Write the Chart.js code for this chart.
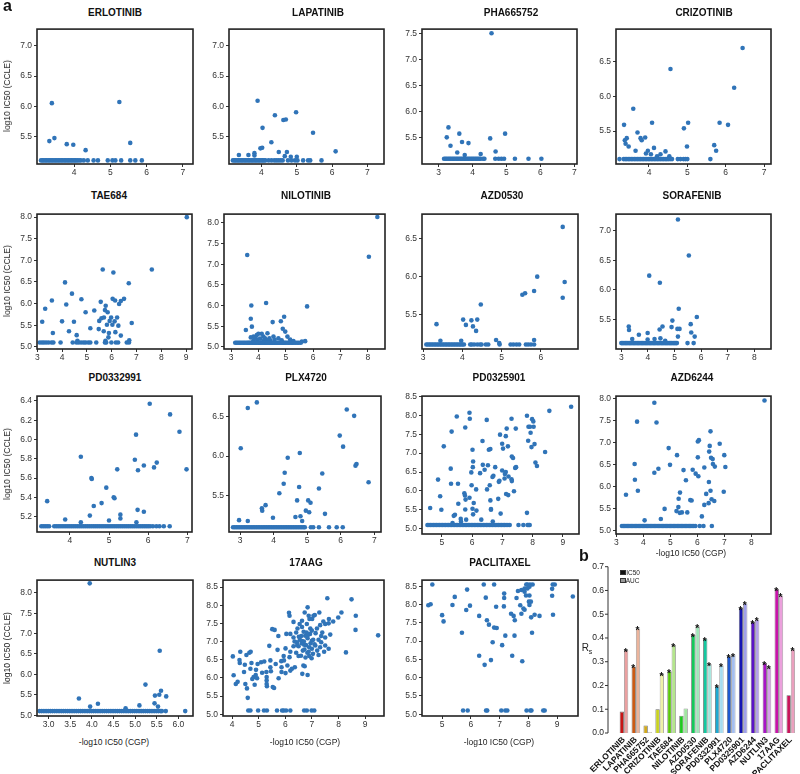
<!DOCTYPE html>
<html>
<head>
<meta charset="utf-8">
<script src="https://cdn.jsdelivr.net/npm/chart.js@4.4.1/dist/chart.umd.min.js"></script>
<style>
body { margin: 0; background: #fff; width: 800px; height: 774px; position: relative; overflow: hidden;
       font-family: "Liberation Sans", Arial, Helvetica, sans-serif; color: #111; }
.t { position: absolute; transform: translate(-50%, -50%); white-space: nowrap; }
.ttl { font-weight: bold; font-size: 10px; }
.ax { font-size: 8.5px; color: #222; }
.yt { transform: translate(-50%, -50%) rotate(-90deg); }
.lab { position: absolute; font-weight: bold; font-size: 16px; }
canvas { position: absolute; }
</style>
</head>
<body>
<script>
const FLOOR_Y = 5.1;

// ---- panel a: CGP (x) vs CCLE (y), points above the floor and x of points on the floor ----
const erlotinibPts = [[3.39,6.05],[5.25,6.07],[3.32,5.42],[3.46,5.47],[3.80,5.37],[3.98,5.36],[4.32,5.27],[5.55,5.39]];
const erlotinibFloor = [3.09,3.13,3.17,3.21,3.25,3.29,3.33,3.37,3.41,3.45,3.49,3.53,3.57,3.61,3.65,3.69,3.73,3.77,3.81,3.85,3.89,3.93,3.97,4.01,4.05,4.09,4.14,4.19,4.27,4.38,4.54,4.66,4.93,5.06,5.14,5.30,5.55,5.69,5.87];

const lapatinibPts = [[3.89,6.09],[4.98,5.90],[4.38,5.85],[4.62,5.77],[4.69,5.78],[4.03,5.64],[5.46,5.56],[4.28,5.40],[3.97,5.30],[4.02,5.31],
  [4.49,5.24],[4.72,5.24],[6.10,5.25],[3.36,5.19],[3.63,5.19],[3.80,5.22],[3.80,5.18],[4.66,5.17],[4.83,5.16],[5.0,5.16]];
const lapatinibFloor = [3.19,3.23,3.27,3.31,3.35,3.39,3.43,3.47,3.51,3.55,3.59,3.63,3.67,3.71,3.75,3.79,3.83,3.87,3.91,3.95,3.99,4.03,4.07,4.11,4.2,4.28,4.36,4.42,4.48,4.54,4.60,4.75,4.85,4.95,5.02,5.18,5.32,5.38,5.70];

const phaPts = [[4.56,7.50],[3.29,5.70],[3.24,5.51],[3.61,5.58],[4.96,5.58],[4.52,5.49],[3.35,5.35],[3.69,5.42],[3.88,5.40],[3.55,5.22],[4.24,5.19],[3.77,5.17],[4.68,5.24]];
const phaFloor = [3.16,3.2,3.24,3.28,3.32,3.36,3.4,3.44,3.48,3.52,3.56,3.6,3.64,3.68,3.72,3.76,3.8,3.84,3.88,3.92,3.96,4.0,4.04,4.08,4.12,4.16,4.2,4.24,4.31,4.35,4.67,4.77,4.85,4.93,5.25,5.65,6.03];

const crizotinibPts = [[6.44,6.69],[4.56,6.39],[6.22,6.12],[3.59,5.82],[3.35,5.59],[4.08,5.62],[5.02,5.62],[5.84,5.62],[6.06,5.59],[4.91,5.54],
  [3.70,5.48],[3.42,5.40],[3.37,5.37],[3.39,5.32],[3.47,5.28],[3.78,5.40],[3.81,5.37],[3.90,5.41],[4.13,5.26],[3.97,5.22],[4.05,5.17],[3.92,5.18],
  [3.65,5.22],[4.43,5.21],[4.30,5.17],[4.21,5.14],[4.53,5.14],[4.99,5.28],[5.70,5.30],[5.75,5.22]];
const crizotinibFloor = [3.23,3.34,3.38,3.42,3.46,3.5,3.54,3.58,3.62,3.66,3.7,3.74,3.78,3.82,3.86,3.9,3.94,3.98,4.02,4.06,4.1,4.14,4.18,4.22,4.26,4.3,4.34,4.38,4.42,4.46,4.5,4.55,4.6,4.75,4.82,4.9,4.95,5.0,5.6];

const tae684Pts = [[9.03,8.0],[5.64,6.79],[6.07,6.72],[7.62,6.79],[6.69,6.47],[4.12,6.49],[4.40,6.23],[4.78,6.10],[3.59,6.07],[4.17,5.98],[3.32,5.88],
  [5.56,6.04],[6.04,6.11],[6.14,6.07],[6.50,6.11],[6.37,6.06],[6.30,5.99],[5.30,5.84],[4.95,5.80],[5.76,5.95],[5.73,5.85],[5.84,5.80],[5.69,5.68],
  [5.98,5.68],[6.22,5.68],[4.0,5.59],[4.48,5.58],[3.20,5.58],[5.50,5.60],[5.59,5.66],[5.92,5.60],[6.12,5.59],[5.81,5.51],[6.03,5.51],[6.27,5.49],
  [6.81,5.55],[5.14,5.43],[5.48,5.41],[4.28,5.36],[3.63,5.32],[5.68,5.36],[6.15,5.34],[6.37,5.26],[4.59,5.27],[5.89,5.32],[5.87,5.22],[6.71,5.15],
  [4.62,5.14],[5.75,5.14]];
const tae684Floor = [3.1,3.19,3.27,3.36,3.46,3.58,3.65,3.94,4.43,4.58,4.67,4.77,4.87,4.95,5.06,5.14,5.38,5.73,5.78,5.99,6.17,6.26,6.61,6.70];

const nilotinibPts = [[8.35,8.14],[8.04,7.18],[3.59,7.22],[3.74,6.0],[4.28,6.06],[5.78,5.98],[3.72,5.68],[4.94,5.73],[4.82,5.62],[4.52,5.60],
  [3.76,5.49],[4.89,5.44],[4.98,5.37],[3.54,5.41],[4.33,5.33],[3.82,5.25],[4.0,5.32],[4.12,5.32],[3.94,5.29],[4.18,5.25],[3.72,5.23],[3.88,5.23],
  [4.06,5.20],[4.24,5.21],[4.40,5.21],[4.55,5.25],[4.73,5.21],[5.06,5.25],[5.16,5.18],[5.28,5.14],[4.59,5.18],[4.85,5.16],[3.82,5.16],[4.18,5.14],
  [4.43,5.15],[5.59,5.13],[5.71,5.14],[3.96,5.18],[4.30,5.16]];
const nilotinibFloor = [3.15,3.2,3.25,3.3,3.35,3.4,3.45,3.5,3.55,3.6,3.64,3.68,3.72,3.76,3.8,3.84,3.88,3.92,3.96,4.0,4.04,4.08,4.12,4.16,4.2,4.24,
  4.28,4.32,4.36,4.4,4.44,4.48,4.52,4.56,4.6,4.64,4.68,4.72,4.76,4.8,4.84,4.88,4.92,4.96,5.0,5.05,5.1,5.15,5.2,5.25,5.3,5.36,5.42,5.48,5.55];

const azd0530Pts = [[6.56,6.66],[5.91,6.0],[6.61,5.93],[5.83,5.81],[6.56,5.72],[5.53,5.76],[5.60,5.78],[4.47,5.63],[3.34,5.37],[4.02,5.43],[4.38,5.43],
  [4.23,5.42],[4.09,5.36],[4.27,5.34],[4.35,5.28],[3.44,5.15],[3.97,5.15],[4.86,5.16],[5.83,5.16],[4.94,5.12]];
const azd0530Floor = [3.08,3.12,3.16,3.2,3.24,3.28,3.32,3.36,3.4,3.44,3.48,3.52,3.56,3.6,3.64,3.68,3.72,3.76,3.8,3.84,3.88,3.92,3.96,4.0,4.04,
  4.2,4.24,4.3,4.38,4.45,4.49,4.6,4.66,4.95,5.23,5.3,5.38,5.45,5.62,5.68,5.75,5.83];

const sorafenibPts = [[5.13,7.19],[5.54,6.58],[4.05,6.24],[4.45,6.12],[5.16,5.68],[5.84,5.54],[4.92,5.48],[5.61,5.42],[3.28,5.38],[3.29,5.32],
  [4.55,5.38],[4.89,5.37],[5.19,5.34],[4.44,5.33],[5.11,5.34],[3.66,5.24],[3.99,5.27],[5.63,5.28],[5.76,5.21],[5.13,5.21],[3.41,5.17],[3.99,5.16],
  [4.25,5.17],[4.47,5.18],[4.65,5.14]];
const sorafenibFloor = [3.0,3.05,3.1,3.15,3.2,3.25,3.3,3.35,3.4,3.45,3.5,3.55,3.6,3.65,3.7,3.75,3.8,3.85,3.9,3.95,4.0,4.05,4.1,4.15,4.2,4.25,
  4.3,4.35,4.4,4.45,4.5,4.55,4.6,4.65,4.7,4.75,4.8,4.85,4.9,4.95,5.0,5.05,5.09,5.49,5.72];

const pd0332991Pts = [[6.04,6.37],[6.56,6.26],[6.80,6.08],[5.69,6.05],[6.98,5.69],[4.28,5.82],[5.66,5.79],[5.21,5.69],[5.74,5.68],[5.89,5.73],
  [6.15,5.71],[6.22,5.76],[4.55,5.60],[4.56,5.59],[4.93,5.50],[5.12,5.40],[5.14,5.39],[3.42,5.36],[4.81,5.34],[4.61,5.31],[5.73,5.27],[5.89,5.25],
  [5.29,5.22],[4.51,5.21],[5.29,5.18],[3.88,5.17],[5.0,5.16],[4.28,5.14],[5.70,5.14]];
const pd0332991Floor = [3.27,3.32,3.37,3.42,3.47,3.6,3.65,3.7,3.75,3.8,3.85,3.9,3.95,4.0,4.05,4.1,4.15,4.2,4.25,4.3,4.35,4.4,4.45,4.5,4.55,4.6,
  4.65,4.7,4.75,4.8,4.85,4.9,4.95,5.0,5.05,5.1,5.15,5.2,5.25,5.3,5.35,5.4,5.45,5.5,5.55,5.6,5.65,5.7,5.75,5.8,5.85,5.9,5.95,6.0,6.05,6.12,
  6.21,6.29,6.4,6.55];

const plx4720Pts = [[3.50,6.68],[3.23,6.61],[6.18,6.59],[6.40,6.51],[5.97,6.26],[6.07,6.12],[3.02,6.10],[4.42,5.98],[4.78,6.04],[6.44,5.88],
  [6.47,5.90],[6.83,5.67],[4.33,5.79],[5.45,5.78],[4.30,5.65],[4.17,5.53],[4.76,5.61],[5.35,5.59],[4.70,5.44],[5.03,5.44],[5.10,5.41],[3.76,5.38],
  [3.65,5.34],[3.66,5.31],[4.96,5.31],[5.06,5.29],[5.53,5.27],[3.98,5.22],[4.65,5.23],[4.80,5.24],[2.97,5.19],[3.23,5.18],[4.85,5.18]];
const plx4720Floor = [2.79,2.84,2.89,2.94,2.99,3.04,3.09,3.14,3.19,3.24,3.29,3.34,3.39,3.44,3.49,3.54,3.59,3.64,3.69,3.74,3.79,3.84,3.89,3.94,
  3.99,4.04,4.09,4.14,4.19,4.24,4.29,4.34,4.39,4.44,4.49,4.54,4.59,4.64,4.69,4.74,4.79,4.84,4.89,4.93,5.11,5.18,5.35,5.65,5.88,6.06];

const pd0325901Pts = [[9.27,8.23],[8.55,8.12],[5.91,8.07],[5.49,7.97],[5.92,7.91],[7.30,7.91],[6.48,7.88],[7.81,7.99],[7.98,7.90],[8.02,7.84],
  [7.86,7.70],[7.91,7.70],[8.03,7.70],[5.77,7.68],[7.14,7.65],[7.44,7.65],[5.32,7.57],[7.93,7.54],[6.92,7.49],[7.11,7.45],[7.85,7.33],[6.34,7.32],
  [7.96,7.16],[8.06,7.24],[5.06,7.18],[7.18,7.18],[6.99,7.25],[6.01,7.09],[6.55,7.09],[6.60,7.11],[7.02,7.12],[8.41,7.03],[7.31,6.91],[7.35,6.87],
  [8.09,6.75],[8.14,6.66],[6.35,6.69],[6.52,6.68],[6.03,6.78],[6.02,6.63],[6.76,6.63],[7.42,6.61],[7.45,6.63],[5.29,6.59],[6.41,6.56],[6.26,6.47],
  [5.97,6.49],[6.99,6.54],[7.08,6.45],[7.11,6.50],[7.30,6.31],[7.31,6.26],[6.88,6.24],[6.90,6.27],[6.70,6.40],[6.67,6.37],[7.20,6.38],[7.07,6.33],
  [4.87,6.30],[5.30,6.19],[5.53,6.19],[5.98,6.15],[6.13,6.04],[6.58,6.15],[6.49,6.04],[7.38,5.99],[7.12,5.92],[7.19,5.89],[5.74,5.94],[5.76,5.88],
  [4.94,5.86],[5.91,5.82],[5.78,5.77],[6.60,5.75],[6.86,5.79],[6.05,5.68],[5.54,5.66],[4.98,5.50],[4.61,5.55],[5.77,5.51],[6.01,5.53],[6.62,5.50],
  [6.62,5.52],[6.14,5.48],[6.03,5.38],[5.43,5.37],[5.39,5.34],[5.80,5.24],[6.30,5.24],[5.62,5.26],[6.94,5.40],[7.81,5.42],[6.68,5.19],[5.35,5.15],
  [5.63,5.19]];
const pd0325901Floor = [4.52,4.57,4.62,4.67,4.72,4.77,4.82,4.87,4.92,4.97,5.02,5.07,5.12,5.17,5.22,5.27,5.32,5.37,5.42,5.47,5.52,5.57,5.62,5.67,
  5.72,5.77,5.82,5.87,5.92,5.97,6.02,6.07,6.12,6.17,6.22,6.27,6.32,6.37,6.42,6.47,6.52,6.57,6.62,6.67,6.72,6.77,6.82,6.87,6.92,6.97,7.02,7.07,
  7.12,7.18,7.24,7.53,7.69,7.83,7.87,7.9];

const azd6244Pts = [[8.49,7.95],[4.41,7.90],[3.77,7.47],[4.49,7.45],[6.49,7.25],[6.83,6.97],[6.06,7.05],[6.02,7.02],[4.94,6.87],[6.46,6.92],
  [7.0,6.71],[5.25,6.71],[6.44,6.79],[6.51,6.65],[6.57,6.62],[6.02,6.66],[3.68,6.51],[4.99,6.49],[6.58,6.51],[6.65,6.45],[6.26,6.43],[7.04,6.44],
  [4.56,6.40],[5.49,6.37],[5.83,6.38],[4.41,6.31],[5.94,6.29],[6.04,6.23],[3.69,6.15],[5.58,6.14],[6.43,6.10],[3.80,5.90],[3.36,5.81],[5.36,5.86],
  [6.49,5.90],[6.98,5.88],[6.33,5.83],[6.53,5.71],[6.63,5.67],[5.74,5.69],[5.79,5.68],[5.31,5.72],[6.26,5.58],[6.42,5.62],[4.79,5.49],[5.30,5.53],
  [5.23,5.44],[5.43,5.41],[5.35,5.40],[5.63,5.41],[6.17,5.32],[4.05,5.23],[4.65,5.26]];
const azd6244Floor = [3.21,3.26,3.31,3.36,3.41,3.46,3.51,3.56,3.61,3.66,3.71,3.76,3.81,3.86,3.91,3.96,4.01,4.06,4.11,4.16,4.21,4.26,4.31,4.36,
  4.41,4.46,4.51,4.56,4.61,4.66,4.71,4.76,4.81,4.86,4.91,4.96,5.01,5.06,5.11,5.16,5.21,5.26,5.31,5.36,5.41,5.46,5.51,5.56,5.61,5.66,5.71,5.76,
  5.81,5.87,5.93,6.09,6.23,6.54];

const nutlin3Pts = [[3.95,8.23],[5.57,6.58],[5.24,5.75],[5.60,5.60],[5.46,5.48],[5.56,5.50],[5.72,5.46],[3.70,5.41],[5.45,5.29],[4.14,5.28],
  [5.10,5.24],[5.53,5.21],[3.96,5.21],[4.78,5.17]];
const nutlin3Floor = [2.79,2.84,2.89,2.94,2.99,3.04,3.09,3.14,3.19,3.24,3.29,3.34,3.39,3.44,3.49,3.54,3.59,3.64,3.69,3.74,3.79,3.84,3.89,3.94,
  3.99,4.04,4.09,4.14,4.19,4.24,4.29,4.34,4.39,4.44,4.49,4.54,4.59,4.64,4.69,4.74,4.79,4.84,4.89,4.94,4.99,5.04,5.09,5.14,5.19,5.24,5.29,5.34,
  5.39,5.44,5.49,5.54,5.59,5.62,5.71,6.16];

const aag17Pts = [[7.58,8.19],[8.49,8.16],[8.11,7.80],[8.65,7.71],[7.99,7.66],[8.64,7.32],[9.49,7.17],[8.28,6.70],[6.14,7.79],[6.16,7.71],
  [6.84,7.94],[6.73,7.80],[7.28,7.80],[7.11,7.73],[6.88,7.71],[6.91,7.62],[7.01,7.62],[7.06,7.71],[6.63,7.57],[6.31,7.54],[7.43,7.55],[7.63,7.50],
  [7.50,7.48],[7.80,7.55],[7.64,7.62],[7.31,7.45],[6.54,7.48],[6.81,7.48],[5.51,7.34],[5.60,7.32],[5.74,7.15],[6.46,7.36],[6.63,7.40],[6.41,7.25],
  [6.69,7.27],[6.94,7.36],[7.19,7.36],[6.19,7.21],[6.04,7.21],[6.31,7.11],[6.51,7.13],[6.75,7.16],[6.93,7.21],[7.14,7.23],[7.39,7.25],[7.69,7.19],
  [7.0,7.02],[6.84,7.09],[6.63,7.01],[6.44,6.98],[7.25,7.05],[7.35,6.98],[7.5,7.11],[6.31,6.87],[6.50,6.87],[6.71,6.91],[6.90,6.84],[7.13,6.89],
  [7.31,6.84],[7.50,6.89],[7.63,6.80],[5.40,6.88],[5.71,6.77],[6.01,6.81],[6.19,6.72],[6.66,6.75],[6.83,6.69],[7.04,6.66],[7.25,6.63],[7.46,6.72],
  [6.41,6.69],[6.59,6.61],[6.76,6.56],[6.99,6.54],[6.16,6.57],[5.94,6.60],[5.95,6.48],[5.85,6.46],[5.44,6.48],[5.21,6.45],[5.09,6.43],[4.96,6.38],
  [4.73,6.41],[4.54,6.63],[4.31,6.72],[4.03,6.59],[4.65,6.69],[4.70,6.72],[4.28,6.49],[4.29,6.41],[4.48,6.36],[5.44,6.29],[5.64,6.38],[5.86,6.29],
  [6.08,6.34],[6.36,6.29],[6.68,6.34],[6.73,6.32],[6.19,6.20],[6.01,6.13],[6.25,6.25],[6.64,6.11],[6.84,6.08],[5.86,6.16],[5.29,6.16],[5.46,6.18],
  [5.13,6.14],[4.45,6.16],[4.90,6.22],[4.89,6.08],[4.69,6.25],[4.06,6.07],[4.21,5.89],[4.14,5.83],[4.81,6.02],[4.76,5.97],[4.94,5.99],[5.30,6.02],
  [5.30,5.93],[5.30,5.83],[5.31,5.77],[4.50,5.83],[4.85,5.81],[5.53,5.75],[5.58,5.72],[5.75,5.99],[4.56,5.71],[4.59,5.45],[6.55,7.05],[6.62,6.95],
  [6.7,7.0],[6.78,6.9],[6.85,7.18],[6.95,6.95],[7.05,7.05],[7.1,6.92],[6.6,7.15],[6.72,6.78],[6.88,6.72],[7.0,7.3],[6.45,6.9],[6.35,7.0],[7.2,6.75],
  [7.35,7.15],[6.5,6.6],[6.9,6.6],[7.0,6.8],[6.8,7.25]];
const aag17Floor = [4.61,4.69,4.98,5.2,5.31,5.69,5.88,5.94,6.03,6.19,6.71,6.81,6.99,7.09];

const paclitaxelPts = [[4.66,8.55],[6.45,8.55],[6.81,8.55],[7.93,8.55],[7.97,8.55],[8.06,8.55],[8.15,8.55],[8.85,8.55],[8.92,8.55],[8.04,8.49],
  [7.64,8.37],[7.76,8.40],[7.87,8.44],[7.97,8.44],[7.87,8.35],[7.16,8.30],[5.87,8.41],[8.83,8.43],[5.44,8.21],[6.52,8.19],[7.16,8.18],[7.59,8.18],
  [7.92,8.25],[8.83,8.24],[9.55,8.22],[8.04,8.25],[4.60,8.01],[4.52,7.98],[5.36,7.99],[5.97,7.97],[6.88,7.94],[7.15,7.95],[8.04,7.99],[8.02,8.08],
  [7.72,7.98],[8.09,8.08],[5.84,7.85],[7.83,7.89],[7.87,7.86],[7.40,7.75],[7.49,7.69],[5.0,7.71],[6.29,7.69],[7.76,7.75],[8.10,7.65],[8.22,7.72],
  [8.39,7.69],[8.86,7.72],[5.05,7.54],[6.56,7.57],[7.53,7.57],[6.63,7.45],[6.81,7.37],[6.90,7.36],[5.69,7.23],[7.20,7.15],[7.52,7.15],[8.13,7.23],
  [6.76,6.97],[7.09,6.89],[6.29,6.60],[7.44,6.60],[6.70,6.48],[6.48,6.35],[7.79,6.45]];
const paclitaxelFloor = [5.73,5.89,6.53,6.57,7.06,7.2,7.27,7.94,8.07,8.11,8.52,8.57];

// tick values of each panel
const ticks3to7 = [3,4,5,6,7], ticks4to7 = [4,5,6,7], ticks3to6 = [3,4,5,6];
const ticks3to8 = [3,4,5,6,7,8], ticks3to9 = [3,4,5,6,7,8,9], ticks4to9 = [4,5,6,7,8,9], ticks5to9 = [5,6,7,8,9];
const ticksNutlinX = [3.0,3.5,4.0,4.5,5.0,5.5,6.0];
const yTicks55to70 = [5.5,6.0,6.5,7.0], yTicks55to75 = [5.5,6.0,6.5,7.0,7.5], yTicks55to65 = [5.5,6.0,6.5];
const yTicks50to80 = [5.0,5.5,6.0,6.5,7.0,7.5,8.0], yTicks50to85 = [5.0,5.5,6.0,6.5,7.0,7.5,8.0,8.5];
const yTicksPd033 = [5.2,5.4,5.6,5.8,6.0,6.2,6.4];

// ---- panel b: Spearman correlation per drug ----
const drugs = ['ERLOTINIB','LAPATINIB','PHA665752','CRIZOTINIB','TAE684','NILOTINIB','AZD0530','SORAFENIB',
               'PD0332991','PLX4720','PD0325901','AZD6244','NUTLIN3','17AAG','PACLITAXEL'];
const rsIC50 = [0.090,0.280,0.032,0.100,0.260,0.073,0.412,0.397,0.197,0.323,0.526,0.467,0.295,0.606,0.159];
const rsAUC  = [0.349,0.440,0.003,0.248,0.370,0.103,0.449,0.290,0.285,0.330,0.546,0.478,0.277,0.579,0.353];
const starIC50 = [0,1,0,0,1,0,1,1,1,1,1,1,1,1,0];
const starAUC  = [1,1,0,1,1,0,1,1,1,1,1,1,1,1,1];
const colIC50 = ['#c81414','#cc5a14','#d2aa1e','#c8d21e','#5ac80a','#1ec81e','#14c85a','#14c8a0',
                 '#1eaad2','#1e5ad2','#1414b4','#5a14c8','#aa14c8','#c814aa','#c8145a'];
const colAUC  = ['#eba0a0','#ebb49c','#f0dc9c','#eef0a8','#b4e68c','#a0e6a0','#a0e6b9','#a0e6dc',
                 '#a5dcf0','#a5bef0','#a0a0eb','#b4a0eb','#d7a0eb','#eba0dc','#eba0be'];

const FONT = '"Liberation Sans", Arial, Helvetica, sans-serif';
Chart.defaults.font.family = FONT;
const DOT = '#3074b8';

const panels = [
  { title: 'ERLOTINIB', tx: 115, ty: 12, box: [37,28,193,164], xr: [2.98,7.28], yr: [5.04,7.28], pts: erlotinibPts, floor: erlotinibFloor, xt: ticks4to7, yt: yTicks55to70, yTitle: true },
  { title: 'LAPATINIB', tx: 318, ty: 12, box: [229,28,384,164], xr: [3.08,7.47], yr: [5.04,7.28], pts: lapatinibPts, floor: lapatinibFloor, xt: ticks4to7, yt: yTicks55to70 },
  { title: 'PHA665752', tx: 511, ty: 12, box: [422,28,577,164], xr: [2.51,7.08], yr: [5.0,7.58], pts: phaPts, floor: phaFloor, xt: ticks3to7, yt: yTicks55to75 },
  { title: 'CRIZOTINIB', tx: 704, ty: 12, box: [616,28,771,164], xr: [3.14,7.18], yr: [5.03,6.96], pts: crizotinibPts, floor: crizotinibFloor, xt: ticks4to7, yt: yTicks55to65 },
  { title: 'TAE684', tx: 109, ty: 195, box: [37,213,192,349], xr: [2.99,9.24], yr: [4.95,8.07], pts: tae684Pts, floor: tae684Floor, xt: ticks3to9, yt: yTicks50to80, yTitle: true },
  { title: 'NILOTINIB', tx: 306, ty: 195, box: [224,213,385,349], xr: [2.74,8.63], yr: [4.95,8.21], pts: nilotinibPts, floor: nilotinibFloor, xt: ticks3to8, yt: yTicks50to80 },
  { title: 'AZD0530', tx: 502, ty: 195, box: [422,213,578,349], xr: [2.97,6.95], yr: [5.04,6.83], pts: azd0530Pts, floor: azd0530Floor, xt: ticks3to6, yt: yTicks55to65 },
  { title: 'SORAFENIB', tx: 692, ty: 195, box: [616,213,771,349], xr: [2.80,8.63], yr: [5.0,7.28], pts: sorafenibPts, floor: sorafenibFloor, xt: ticks3to8, yt: yTicks55to70 },
  { title: 'PD0332991', tx: 115, ty: 377, box: [37,395,192,532], xr: [3.16,7.12], yr: [5.04,6.45], pts: pd0332991Pts, floor: pd0332991Floor, xt: ticks4to7, yt: yTicksPd033, yTitle: true },
  { title: 'PLX4720', tx: 306, ty: 377, box: [229,395,381,532], xr: [2.67,7.2], yr: [5.04,6.76], pts: plx4720Pts, floor: plx4720Floor, xt: ticks3to7, yt: yTicks55to65 },
  { title: 'PD0325901', tx: 499, ty: 377, box: [422,395,579,534], xr: [4.34,9.53], yr: [4.86,8.51], pts: pd0325901Pts, floor: pd0325901Floor, xt: ticks5to9, yt: yTicks50to85 },
  { title: 'AZD6244', tx: 692, ty: 377, box: [616,395,771,534], xr: [2.99,8.73], yr: [4.92,8.05], pts: azd6244Pts, floor: azd6244Floor, xt: ticks3to8, yt: yTicks50to80, xTitle: [691,553] },
  { title: 'NUTLIN3', tx: 115, ty: 562, box: [37,579,193,716], xr: [2.73,6.34], yr: [4.98,8.31], pts: nutlin3Pts, floor: nutlin3Floor, xt: ticksNutlinX, xDec: 1, yt: yTicks50to80, yTitle: true, xTitle: [114,742] },
  { title: '17AAG', tx: 306, ty: 562, box: [223,579,384,716], xr: [3.66,9.71], yr: [4.95,8.69], pts: aag17Pts, floor: aag17Floor, xt: ticks4to9, yt: yTicks50to85, xTitle: [305,742] },
  { title: 'PACLITAXEL', tx: 500, ty: 562, box: [422,579,578,716], xr: [4.30,9.73], yr: [4.95,8.67], pts: paclitaxelPts, floor: paclitaxelFloor, xt: ticks5to9, yt: yTicks50to85, xTitle: [499,742] }
];

function text(str, x, y, cls) {
  const d = document.createElement('div');
  d.className = 't ' + cls;
  d.style.left = x + 'px';
  d.style.top = y + 'px';
  d.innerHTML = str;
  document.body.appendChild(d);
  return d;
}

// box round the plot area, as R draws it
const boxPlugin = {
  id: 'box',
  afterDraw(chart) {
    const { ctx, chartArea: a } = chart;
    ctx.save();
    ctx.strokeStyle = '#222';
    ctx.lineWidth = 1.6;
    ctx.strokeRect(a.left, a.top, a.right - a.left, a.bottom - a.top);
    ctx.restore();
  }
};

function makePanel(p) {
  const [l, t, r, b] = p.box;
  const padL = 36, padT = 6, padR = 6, padB = 17;
  const cv = document.createElement('canvas');
  cv.width = r - l + padL + padR;
  cv.height = b - t + padT + padB;
  cv.style.left = (l - padL) + 'px';
  cv.style.top = (t - padT) + 'px';
  document.body.appendChild(cv);

  const pts = p.pts.map(([x, y]) => ({ x, y })).concat(p.floor.map(x => ({ x, y: FLOOR_Y })));
  const tickFont = { size: 8.5 };
  new Chart(cv, {
    type: 'scatter',
    data: { datasets: [{ data: pts, backgroundColor: DOT, borderWidth: 0, pointRadius: 2.3, clip: 6 }] },
    options: {
      responsive: false, animation: false, events: [],
      layout: { padding: { top: padT, right: padR, left: 0, bottom: 0 } },
      plugins: { legend: { display: false }, tooltip: { enabled: false } },
      scales: {
        x: {
          type: 'linear', min: p.xr[0], max: p.xr[1],
          afterBuildTicks: s => { s.ticks = p.xt.map(v => ({ value: v })); },
          afterFit: s => { s.height = padB; },
          grid: { drawOnChartArea: false, tickLength: 3, color: '#333' },
          border: { display: false },
          ticks: { autoSkip: false, maxRotation: 0, padding: 1, font: tickFont, color: '#333',
                   callback: v => v.toFixed(p.xDec || 0) }
        },
        y: {
          type: 'linear', min: p.yr[0], max: p.yr[1],
          afterBuildTicks: s => { s.ticks = p.yt.map(v => ({ value: v })); },
          afterFit: s => { s.width = padL; },
          grid: { drawOnChartArea: false, tickLength: 3, color: '#333' },
          border: { display: false },
          ticks: { autoSkip: false, padding: 2, font: tickFont, color: '#333',
                   callback: v => v.toFixed(1) }
        }
      }
    },
    plugins: [boxPlugin]
  });

  text(p.title, p.tx, p.ty, 'ttl');
  if (p.yTitle) text('log10 IC50 (CCLE)', 7, (t + b) / 2, 'ax yt');
  if (p.xTitle) text('-log10 IC50 (CGP)', p.xTitle[0], p.xTitle[1], 'ax');
}

panels.forEach(makePanel);

// ---- bar chart b ----
const barExtras = {
  id: 'barExtras',
  afterDatasetsDraw(chart) {
    const { ctx, scales: { y } } = chart;
    ctx.save();
    const ax = chart.chartArea.left - 10;
    ctx.strokeStyle = '#333';
    ctx.lineWidth = 1;
    ctx.beginPath();
    ctx.moveTo(ax, y.getPixelForValue(0));
    ctx.lineTo(ax, y.getPixelForValue(0.7));
    y.ticks.forEach(tk => {
      const py = y.getPixelForValue(tk.value);
      ctx.moveTo(ax, py);
      ctx.lineTo(ax - 3, py);
    });
    ctx.stroke();
    ctx.fillStyle = '#111';
    ctx.font = 'bold 10px ' + FONT;
    ctx.textAlign = 'center';
    [starIC50, starAUC].forEach((flags, di) => {
      chart.getDatasetMeta(di).data.forEach((bar, i) => {
        if (flags[i]) ctx.fillText('*', bar.x - 0.5, bar.y + 6);
      });
    });
    ctx.restore();
  }
};

const bc = document.createElement('canvas');
bc.width = 230; bc.height = 234;
bc.style.left = '570px'; bc.style.top = '540px';
document.body.appendChild(bc);

new Chart(bc, {
  type: 'bar',
  data: {
    labels: drugs,
    datasets: [
      { label: 'IC50', data: rsIC50, backgroundColor: colIC50, borderColor: 'rgba(0,0,0,0.6)', borderWidth: 0.8,
        categoryPercentage: 0.72, barPercentage: 1 },
      { label: 'AUC', data: rsAUC, backgroundColor: colAUC, borderColor: 'rgba(0,0,0,0.45)', borderWidth: 0.8,
        categoryPercentage: 0.72, barPercentage: 1 }
    ]
  },
  options: {
    responsive: false, animation: false, events: [],
    layout: { padding: { top: 26.7, right: 0, left: 0, bottom: 0 } },
    plugins: { legend: { display: false }, tooltip: { enabled: false } },
    scales: {
      x: {
        grid: { display: false, drawTicks: false }, border: { display: false },
        afterFit: s => { s.height = 41; },
        ticks: { autoSkip: false, minRotation: 45, maxRotation: 45, padding: 2,
                 font: { size: 8.5, weight: 'bold' }, color: '#111' }
      },
      y: {
        min: 0, max: 0.7,
        grid: { display: false, drawTicks: false }, border: { display: false },
        afterFit: s => { s.width = 48; },
        ticks: { stepSize: 0.1, padding: 14, font: { size: 8.5 }, color: '#222', callback: v => v.toFixed(1) }
      }
    }
  },
  plugins: [barExtras]
});

// legend of b
function swatch(x, y, c) {
  const d = document.createElement('div');
  d.style.cssText = `position:absolute;left:${x}px;top:${y}px;width:3.5px;height:3.5px;background:${c};border:0.5px solid #333`;
  document.body.appendChild(d);
}
swatch(620, 569.5, '#111');
swatch(620, 577.5, '#999');
text('IC50', 633, 571.5, 'ax').style.fontSize = '6.5px';
text('AUC', 632.5, 579.5, 'ax').style.fontSize = '6.5px';
text('R<sub style="font-size:7px">s</sub>', 587, 648, 'ax').style.fontSize = '10px';

const la = document.createElement('div');
la.className = 'lab'; la.style.left = '3px'; la.style.top = '-3px'; la.textContent = 'a';
document.body.appendChild(la);
const lb = document.createElement('div');
lb.className = 'lab'; lb.style.left = '579px'; lb.style.top = '547px'; lb.textContent = 'b';
document.body.appendChild(lb);
</script>
</body>
</html>
